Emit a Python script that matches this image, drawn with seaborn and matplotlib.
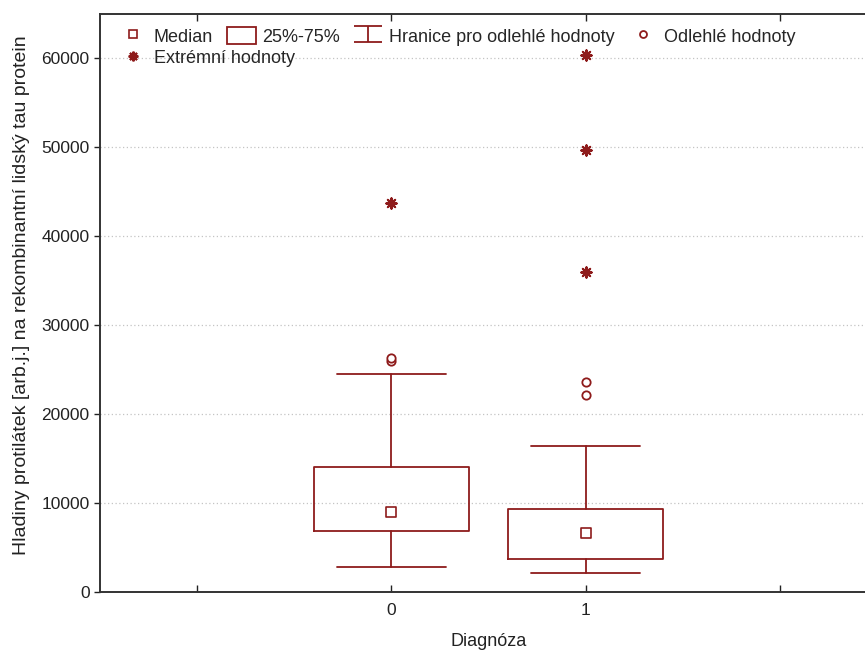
import matplotlib
matplotlib.use("Agg")
import matplotlib.pyplot as plt
import seaborn as sns
import pandas as pd
from matplotlib.lines import Line2D
from matplotlib.patches import Rectangle
from matplotlib.path import Path

# ---- data ----
groups = ["0", "1"]
medians = [9000, 6600]
q1 = [6850, 3700]
q3 = [14050, 9350]
whisker_low = [2800, 2100]
whisker_high = [24500, 16400]
outliers_group = ["0", "0", "1", "1"]
outliers_value = [26000, 26300, 22150, 23600]
extremes_group = ["0", "1", "1", "1"]
extremes_value = [43800, 36000, 49700, 60400]
y_ticks = [0, 10000, 20000, 30000, 40000, 50000, 60000]

color = "#8E1B1B"

sns.set_theme(style="white")
plt.rcParams["font.family"] = ["Liberation Sans", "DejaVu Sans"]

fig = plt.figure(figsize=(8.65, 6.51), dpi=100)
ax = fig.add_axes([100 / 865, 59 / 651, 777 / 865, 578 / 651])

pos = {g: i for i, g in enumerate(groups)}
stats = []
for i, g in enumerate(groups):
    stats.append(dict(med=medians[i], q1=q1[i], q3=q3[i],
                      whislo=whisker_low[i], whishi=whisker_high[i],
                      fliers=[], label=g))
ax.bxp(stats, positions=[pos[g] for g in groups], widths=0.8,
       showfliers=False, manage_ticks=False,
       boxprops=dict(color=color, linewidth=1.3),
       whiskerprops=dict(color=color, linewidth=1.3),
       capprops=dict(color=color, linewidth=1.3),
       medianprops=dict(linewidth=0))
# cap widths
for ln in ax.lines:
    xd = ln.get_xdata()
    if len(xd) == 2 and xd[0] != xd[1] and abs(xd[1] - xd[0]) < 0.5:
        mid = (xd[0] + xd[1]) / 2
        ln.set_xdata([mid - 0.28, mid + 0.28])

med_df = pd.DataFrame({"x": [pos[g] for g in groups], "y": medians})
out_df = pd.DataFrame({"x": [pos[g] for g in outliers_group], "y": outliers_value})
ext_df = pd.DataFrame({"x": [pos[g] for g in extremes_group], "y": extremes_value})

sns.scatterplot(data=med_df, x="x", y="y", marker="s", s=50, facecolor="white",
                edgecolor=color, linewidth=1.2, ax=ax, zorder=5)
sns.scatterplot(data=out_df, x="x", y="y", marker="o", s=36, facecolor="white",
                edgecolor=color, linewidth=1.3, ax=ax, zorder=5)
sns.scatterplot(data=ext_df, x="x", y="y", marker=(8, 2, 0), s=55,
                color=color, linewidth=1.5, ax=ax, zorder=5)

ax.set_xlim(-1.5, 2.5)
ax.set_ylim(0, 65000)
ax.set_xticks([-1, 0, 1, 2])
ax.set_xticklabels(["", "0", "1", ""])
ax.set_yticks(y_ticks)
ax.set_yticklabels([str(v) for v in y_ticks])
ax.yaxis.grid(True, linestyle=(0, (1, 2)), color="#c4c4c4", linewidth=0.9)
ax.xaxis.grid(False)
for s in ["left", "bottom", "top", "right"]:
    ax.spines[s].set_color("#333333")
    ax.spines[s].set_linewidth(1.4)
ax.tick_params(axis="x", direction="in", length=5, width=1, colors="#222222",
               labelsize=12.5, pad=8, top=True, bottom=True)
ax.tick_params(axis="y", direction="out", length=4, width=1, colors="#222222",
               labelsize=12.5, left=True)
ax.set_xlabel("Diagnóza", fontsize=13, labelpad=11, color="#222222")
ax.set_ylabel("Hladiny protilátek [arb.j.] na rekombinantní lidský tau protein",
              fontsize=14, labelpad=8, color="#222222")
ax.yaxis.label.set_y(0.514)

ibeam = Path([(-1, 0.6), (1, 0.6), (0, 0.6), (0, -0.6), (-1, -0.6), (1, -0.6)],
             [Path.MOVETO, Path.LINETO, Path.MOVETO, Path.LINETO, Path.MOVETO, Path.LINETO])

h_med = Line2D([], [], marker="s", linestyle="none", markersize=6,
               markerfacecolor="white", markeredgecolor=color, markeredgewidth=1.2)
h_box = Rectangle((0, 0), 1, 1, facecolor="white", edgecolor=color, linewidth=1.3)
h_whi = Line2D([], [], linestyle="none", marker=ibeam, markersize=20,
               markerfacecolor="none", markeredgecolor=color, markeredgewidth=1.3)
h_out = Line2D([], [], marker="o", linestyle="none", markersize=5,
               markerfacecolor="white", markeredgecolor=color, markeredgewidth=1.3)
h_ext = Line2D([], [], marker=(8, 2, 0), linestyle="none", markersize=7,
               color=color, markeredgewidth=1.5)

leg1 = ax.legend([h_med, h_box, h_whi, h_out],
                 ["Median", "25%-75%", "Hranice pro odlehlé hodnoty", "Odlehlé hodnoty"],
                 ncol=4, loc="upper left", frameon=False, fontsize=13,
                 bbox_to_anchor=(0.014, 0.99), borderaxespad=0.0,
                 handlelength=1.6, handleheight=1.1, columnspacing=0.75,
                 handletextpad=0.38)
ax.add_artist(leg1)
ax.legend([h_ext], ["Extrémní hodnoty"], loc="upper left", frameon=False,
          fontsize=13, bbox_to_anchor=(0.014, 0.951), borderaxespad=0.0,
          handlelength=1.6, handletextpad=0.38)

fig.savefig("out.png", dpi=100)
